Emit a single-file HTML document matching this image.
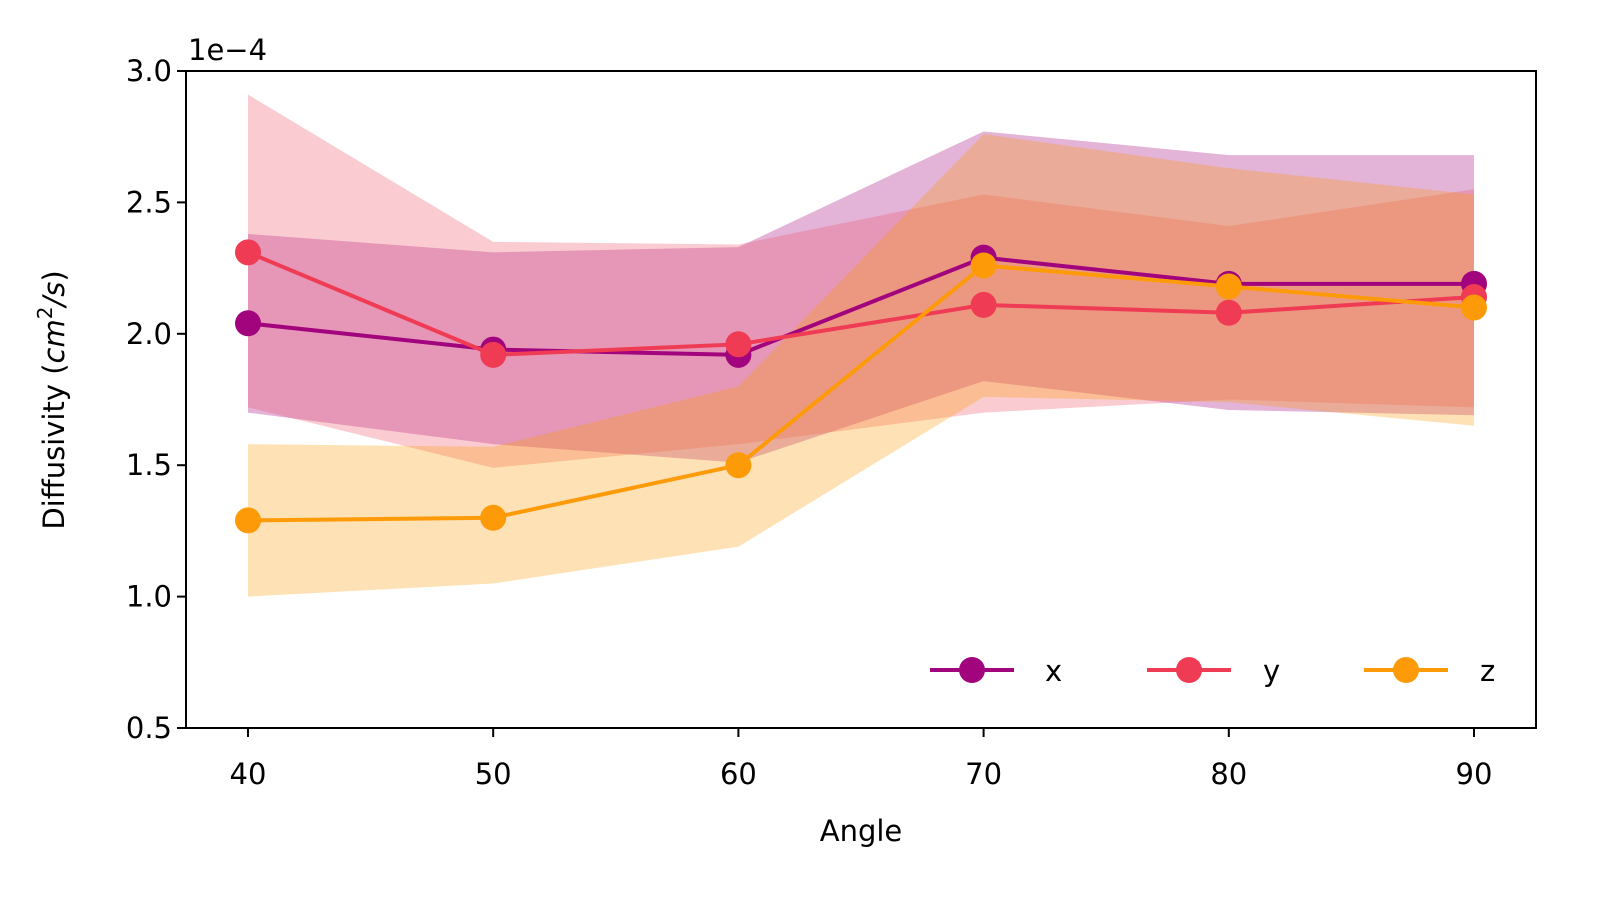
<!DOCTYPE html>
<html><head><meta charset="utf-8"><style>
html,body{margin:0;padding:0;background:#fff;}
svg{display:block;font-family:"DejaVu Sans","Liberation Sans",sans-serif;}
</style></head><body>
<svg id="chart" width="1620" height="908" xmlns="http://www.w3.org/2000/svg">
<rect width="1620" height="908" fill="#fff"/>
<g id="bands"></g><g id="lines"></g><g id="axes"></g>
</svg>
<script>
const angles=[40,50,60,70,80,90];
const xVals=[2.04,1.94,1.92,2.29,2.19,2.19];
const yVals=[2.31,1.92,1.96,2.11,2.08,2.14];
const zVals=[1.29,1.30,1.50,2.26,2.18,2.10];
const xUpper=[2.38,2.31,2.33,2.77,2.68,2.68];
const xLower=[1.70,1.58,1.51,1.82,1.71,1.69];
const yUpper=[2.91,2.35,2.34,2.53,2.41,2.55];
const yLower=[1.72,1.49,1.58,1.70,1.75,1.72];
const zUpper=[1.58,1.57,1.80,2.76,2.63,2.53];
const zLower=[1.00,1.05,1.19,1.76,1.74,1.65];
const xTicks=[40,50,60,70,80,90];
const yTicks=[0.5,1.0,1.5,2.0,2.5,3.0];
const L=186,R=1536,T=71,B=728;
const sx=v=>248+(v-40)*24.52;
const sy=v=>B-(v-0.5)*(B-T)/2.5;
const NS="http://www.w3.org/2000/svg";
function mk(tag,attrs,parent){const e=document.createElementNS(NS,tag);for(const k in attrs)e.setAttribute(k,attrs[k]);parent.appendChild(e);return e;}
const bands=document.getElementById('bands'),lines=document.getElementById('lines'),axes=document.getElementById('axes');
const series=[
 {n:'x',v:xVals,u:xUpper,l:xLower,c:'#a1047d',bc:'#a1047d'},
 {n:'y',v:yVals,u:yUpper,l:yLower,c:'#ef3b53',bc:'#f0566a'},
 {n:'z',v:zVals,u:zUpper,l:zLower,c:'#fd9a08',bc:'#fd9a08'}];
series.forEach(s=>{
 let pts=angles.map((a,i)=>sx(a)+','+sy(s.u[i]));
 pts=pts.concat(angles.map((a,i)=>sx(a)+','+sy(s.l[i])).reverse());
 const p=mk('polygon',{points:pts.join(' '),fill:s.bc,'fill-opacity':0.3},bands);
 
 
});
series.forEach(s=>{
 const g=mk('g',{},lines);
 
 
 mk('polyline',{points:angles.map((a,i)=>sx(a)+','+sy(s.v[i])).join(' '),fill:'none',stroke:s.c,'stroke-width':4},g);
 angles.forEach((a,i)=>{
  const c=mk('circle',{cx:sx(a),cy:sy(s.v[i]),r:13,fill:s.c},g);
  
  
 });
});
const fr=mk('rect',{x:L,y:T,width:R-L,height:B-T,fill:'none',stroke:'#000','stroke-width':2},axes);


xTicks.forEach(t=>{
 mk('line',{x1:sx(t),x2:sx(t),y1:B,y2:B+9,stroke:'#000','stroke-width':2},axes);
 const tx=mk('text',{x:sx(t),y:784,'font-size':29,'text-anchor':'middle',fill:'#000'},axes);
 tx.textContent=t;
 
 
});
yTicks.forEach(t=>{
 mk('line',{x1:L-9,x2:L,y1:sy(t),y2:sy(t),stroke:'#000','stroke-width':2},axes);
 const tx=mk('text',{x:L-14,y:sy(t)+10,'font-size':29,'text-anchor':'end',fill:'#000'},axes);
 tx.textContent=t.toFixed(1);
 
 
});
</script>
<svg style="position:absolute;left:0;top:0" width="1620" height="908" xmlns="http://www.w3.org/2000/svg">
<text x="188" y="60" font-size="29" font-family="DejaVu Sans, Liberation Sans, sans-serif">1e−4</text>
<text x="861" y="841" font-size="29" text-anchor="middle" font-family="DejaVu Sans, Liberation Sans, sans-serif">Angle</text>
<text transform="translate(64,400) rotate(-90)" font-size="29" text-anchor="middle" font-family="DejaVu Sans, Liberation Sans, sans-serif">Diffusivity (<tspan font-style="italic">cm</tspan><tspan font-size="20" dy="-12">2</tspan><tspan dy="12" font-style="italic">/s</tspan>)</text>
<g font-size="29" font-family="DejaVu Sans, Liberation Sans, sans-serif">
 <g><line x1="930" x2="1014" y1="670" y2="670" stroke="#a1047d" stroke-width="4"/><circle cx="972" cy="670" r="13" fill="#a1047d"/><text x="1045" y="681">x</text></g>
 <g><line x1="1147" x2="1231" y1="670" y2="670" stroke="#ef3b53" stroke-width="4"/><circle cx="1189" cy="670" r="13" fill="#ef3b53"/><text x="1263" y="681">y</text></g>
 <g><line x1="1364" x2="1448" y1="670" y2="670" stroke="#fd9a08" stroke-width="4"/><circle cx="1406" cy="670" r="13" fill="#fd9a08"/><text x="1480" y="681">z</text></g>
</g>
</svg>
</body></html>
